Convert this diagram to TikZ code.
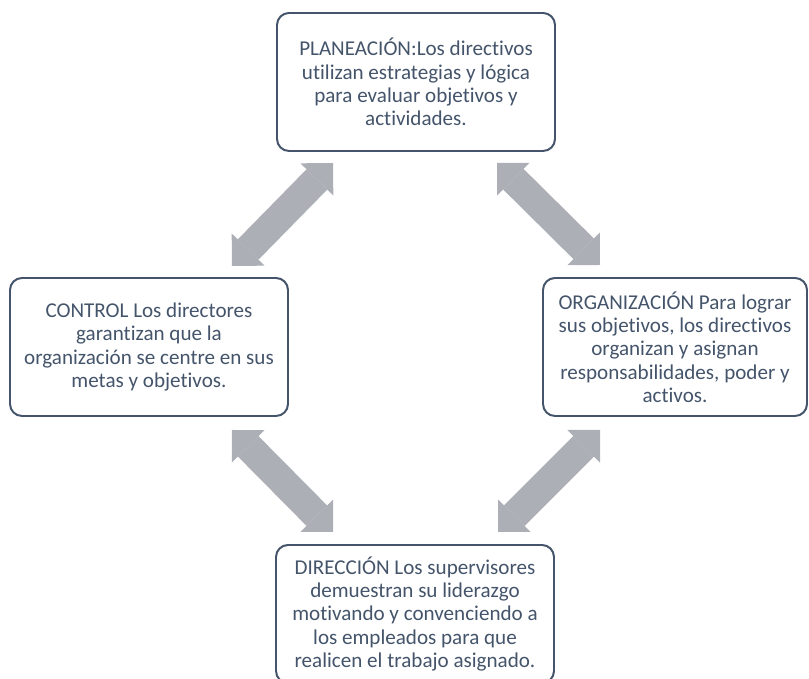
\documentclass[tikz,border=0pt]{standalone}
\usepackage{fontspec}
\setmainfont{Carlito}[Ligatures=NoCommon]
\usetikzlibrary{arrows.meta}
\usepackage{xcolor}
\definecolor{boxline}{RGB}{68,84,106}
\definecolor{arrowgray}{RGB}{172,175,182}

\begin{document}
\begin{tikzpicture}[
    box/.style={draw=boxline, line width=1.4pt, rectangle, rounded corners=0.3cm,
                minimum width=6.95cm, minimum height=3.45cm, align=center,
                text=boxline, font=\fontsize{15}{16.6}\selectfont},
    bigarrow/.style={draw=arrowgray, line width=0.725cm, {Triangle[width=1.15cm, length=0.575cm, line width=0pt]}-{Triangle[width=1.15cm, length=0.575cm, line width=0pt]}}
  ]
  \useasboundingbox (0,0) rectangle (20.225,16.975);
  \clip (0,0) rectangle (20.225,16.975);

  % Box Planeacion (top)
  \node[box] (plan) at (10.4,14.925) {PLANEACIÓN:Los directivos\\ utilizan estrategias y lógica\\ para evaluar objetivos y\\ actividades.};

  % Box Control (left)
  \node[box] (ctrl) at (3.725,8.3) {CONTROL Los directores\\ garantizan que la\\ organización se centre en sus\\ metas y objetivos.};

  % Box Organizacion (right)
  \node[box, minimum width=6.6cm] (org) at (16.875,8.3) {ORGANIZACIÓN Para lograr\\ sus objetivos, los directivos\\ organizan y asignan\\ responsabilidades, poder y\\ activos.};

  % Box Direccion (bottom)
  \node[box] (dir) at (10.375,1.625) {DIRECCIÓN Los supervisores\\ demuestran su liderazgo\\ motivando y convenciendo a\\ los empleados para que\\ realicen el trabajo asignado.};

  % arrow ends
  \coordinate (pc1) at (8.325,12.9);
  \coordinate (pc2) at (5.8,10.325);
  \coordinate (po1) at (12.425,12.9);
  \coordinate (po2) at (15.0,10.35);
  \coordinate (cd1) at (5.8,6.225);
  \coordinate (cd2) at (8.325,3.675);
  \coordinate (od1) at (15.0,6.225);
  \coordinate (od2) at (12.45,3.675);

  % Double arrows between the boxes
  \draw [bigarrow] (pc1) -- (pc2);
  \draw [bigarrow] (po1) -- (po2);
  \draw [bigarrow] (cd1) -- (cd2);
  \draw [bigarrow] (od1) -- (od2);
\end{tikzpicture}
\end{document}
